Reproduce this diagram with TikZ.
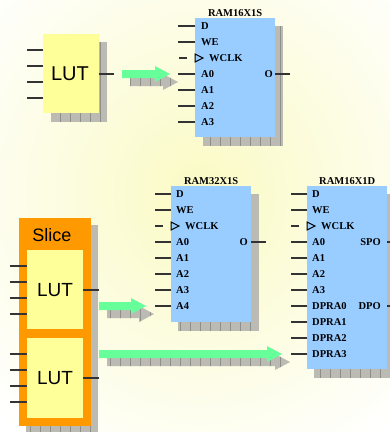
\documentclass[tikz,border=0pt]{standalone}
\usepackage{fontspec}
\setmainfont{Liberation Serif}
\newfontfamily\arialf{Liberation Sans}
\usetikzlibrary{calc}
\definecolor{ramblue}{HTML}{99CCFF}
\definecolor{lutyel}{HTML}{FFFF99}
\definecolor{sliceor}{HTML}{FF9900}
\definecolor{arrgreen}{HTML}{66FF99}
\definecolor{shgray}{HTML}{BBBBB4}
\definecolor{shline}{HTML}{8E8E8A}
\definecolor{bgyel}{HTML}{FAFAC4}
\definecolor{pinc}{HTML}{333333}
\newcommand\myshadow[2]{%
  \fill[shgray] #1 rectangle #2;
  \draw[shline,line width=0.4pt,step=10] #1 grid #2;}
\newcommand\myarrowpath[3]{(#1,#3-4) -- (#2-15,#3-4) -- (#2-15,#3-8) -- (#2,#3) -- (#2-15,#3+8) -- (#2-15,#3+4) -- (#1,#3+4) -- cycle}
\newcommand\fatarrow[3]{%
  \begin{scope}
    \clip \myarrowpath{#1+8}{#2+8}{#3+8};
    \fill[shgray] (#1,#3-20) rectangle (#2+10,#3+20);
    \draw[shline,line width=0.4pt,step=10] (#1,#3-20) grid (#2+10,#3+20);
  \end{scope}
  \fill[arrgreen] \myarrowpath{#1}{#2}{#3};}
\begin{document}
\begin{tikzpicture}[x=1pt,y=-1pt,
  ram/.style={fill=ramblue, inner sep=0, anchor=north west},
  lut/.style={fill=lutyel, inner sep=0, anchor=north west, font=\arialf\fontsize{20}{24}\selectfont},
  slicebox/.style={fill=sliceor, inner sep=0, anchor=north west},
  title/.style={font=\bfseries\fontsize{10.5}{12}\selectfont, inner sep=1.5pt, anchor=south},
  pinlab/.style={font=\bfseries\fontsize{10.5}{12}\selectfont, inner sep=0, anchor=west},
  outlab/.style={font=\bfseries\fontsize{10.5}{12}\selectfont, inner sep=0, anchor=east},
  pin/.style={draw=pinc, line width=1.3pt},
  clk/.style={draw=black, line width=1pt, fill=ramblue, line join=miter}]
\useasboundingbox (0,0) rectangle (390,432);
\begin{scope}
  \clip (0,0) rectangle (390,432);
  \shade[inner color=bgyel, outer color=white] (-90,-110) rectangle (490,500);
\end{scope}

% ---------- top LUT ----------
\myshadow{(51,42)}{(107,122)}
\node[lut, minimum width=56, minimum height=79] (lut0) at (43,34) {};
\node[font=\arialf\fontsize{20}{24}\selectfont, inner sep=0] (lut0t) at (70,74) {LUT};
\foreach \y in {50,66,82,98} \draw[pin] (27,\y) -- (43,\y);
\coordinate (lut0o) at (114,74);
\draw[pin] (lut0.east |- lut0o) -- (lut0o);

% ---------- RAM16X1S ----------
\myshadow{(203,26)}{(283,146)}
\node[ram, minimum width=80, minimum height=119] (r1) at (195,18) {};
\node[title] (r1t) at (r1.north) {RAM16X1S};
\foreach \y/\t in {26/D,42/WE,74/A0,90/A1,106/A2,122/A3}{
  \draw[pin] (178,\y) -- (195,\y);
  \node[pinlab] at (201,\y) {\t};}
\draw[pin] (179,58) -- (187,58);
\draw[clk] (195,54) -- (203,58) -- (195,62) -- cycle;
\node[pinlab] (r1clk) at (209,58) {WCLK};
\node[outlab] (r1o) at (273,74) {O};
\coordinate (r1out) at (290,74);
\draw[pin] (r1.east |- r1out) -- (r1out);

% ---------- top arrow ----------
\fatarrow{122}{170}{74}

% ---------- Slice ----------
\myshadow{(26,225)}{(98,436)}
\node[slicebox, minimum width=72, minimum height=208] (slice) at (19,218) {};
\node[font=\arialf\fontsize{18}{22}\selectfont, inner sep=0] (slicet) at (52,235) {Slice};
\node[lut, minimum width=56, minimum height=79] (lut1) at (27,250) {};
\node[font=\arialf\fontsize{19}{23}\selectfont, inner sep=0] (lut1t) at (55,290) {LUT};
\node[lut, minimum width=56, minimum height=80] (lut2) at (27,338) {};
\node[font=\arialf\fontsize{19}{23}\selectfont, inner sep=0] (lut2t) at (55,378) {LUT};
\foreach \y in {266,282,298,314,354,370,386,402} \draw[pin] (10,\y) -- (27,\y);
\coordinate (lut1o) at (99,290);
\coordinate (lut2o) at (99,378);
\draw[pin] (lut1.east |- lut1o) -- (lut1o);
\draw[pin] (lut2.east |- lut2o) -- (lut2o);

% ---------- RAM32X1S ----------
\myshadow{(178,194)}{(259,331)}
\node[ram, minimum width=80, minimum height=136] (r2) at (171,186) {};
\node[title] (r2t) at (r2.north) {RAM32X1S};
\foreach \y/\t in {194/D,210/WE,242/A0,258/A1,274/A2,290/A3,306/A4}{
  \draw[pin] (155,\y) -- (171,\y);
  \node[pinlab] at (176,\y) {\t};}
\draw[pin] (155,226) -- (163,226);
\draw[clk] (171,222) -- (179,226) -- (171,230) -- cycle;
\node[pinlab] (r2clk) at (185,226) {WCLK};
\node[outlab] (r2o) at (248,242) {O};
\coordinate (r2out) at (266,242);
\draw[pin] (r2.east |- r2out) -- (r2out);

% ---------- RAM16X1D ----------
\myshadow{(314,194)}{(396,378)}
\node[ram, minimum width=80, minimum height=183] (r3) at (307,186) {};
\node[title] (r3t) at (r3.north) {RAM16X1D};
\foreach \y/\t in {194/D,210/WE,242/A0,258/A1,274/A2,290/A3,306/DPRA0,322/DPRA1,338/DPRA2,354/DPRA3}{
  \draw[pin] (291,\y) -- (307,\y);
  \node[pinlab] at (312,\y) {\t};}
\draw[pin] (291,226) -- (299,226);
\draw[clk] (307,222) -- (315,226) -- (307,230) -- cycle;
\node[pinlab] (r3clk) at (321,226) {WCLK};
\node[outlab] (r3spo) at (381,242) {SPO};
\node[outlab] (r3dpo) at (381,306) {DPO};
\coordinate (r3o1) at (400,242);
\coordinate (r3o2) at (400,306);
\draw[pin] (r3.east |- r3o1) -- (r3o1);
\draw[pin] (r3.east |- r3o2) -- (r3o2);

% ---------- lower arrows ----------
\fatarrow{99}{146}{306}
\fatarrow{99}{282}{354}
\end{tikzpicture}
\end{document}
